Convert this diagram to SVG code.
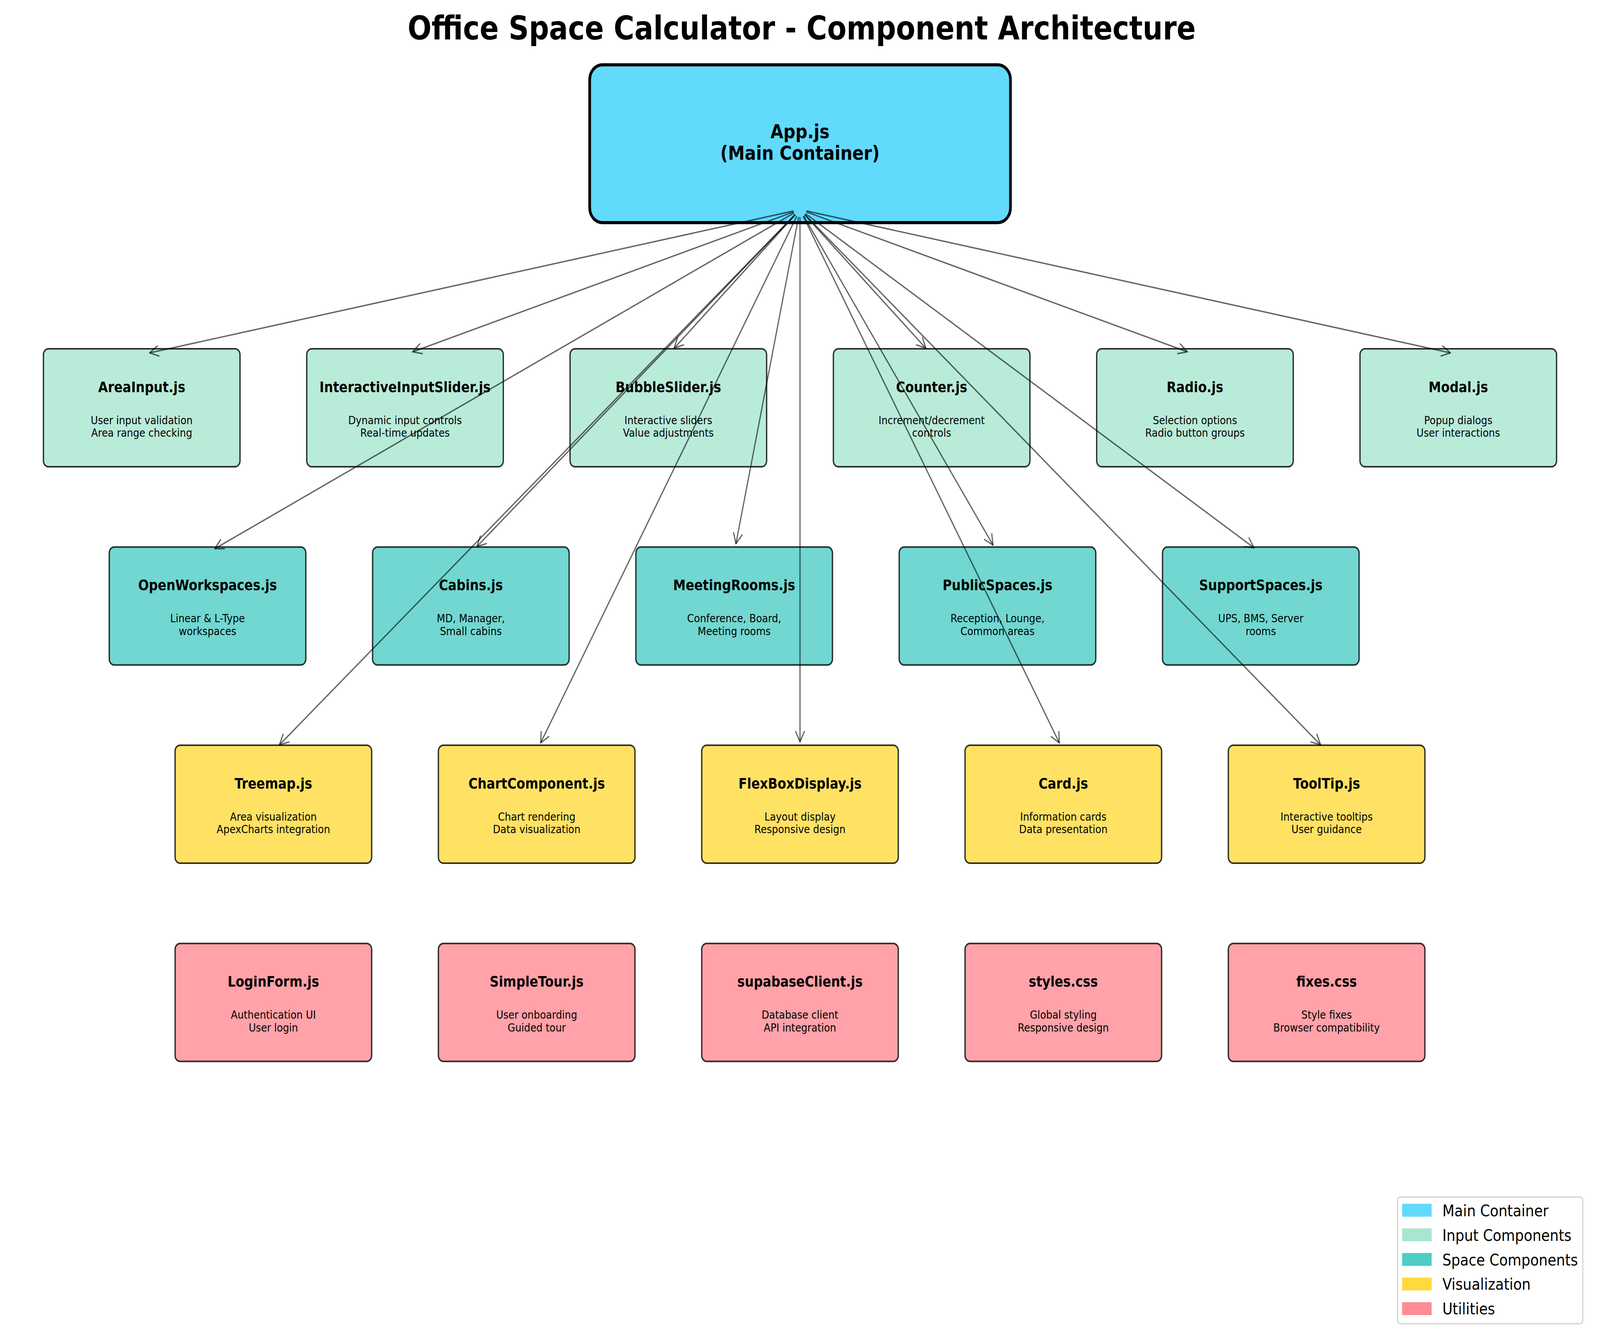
<svg xmlns="http://www.w3.org/2000/svg" width="4770" height="3441" viewBox="0 0 4770 3441" preserveAspectRatio="none">
<defs>
<style>
svg{width:100vw;height:100vh}
text{font-family:"DejaVu Sans","Liberation Sans",sans-serif;fill:#000;text-anchor:middle}
.title{font-size:84px;font-weight:bold}
.at{font-size:50px;font-weight:bold}
.nt{font-size:37.5px;font-weight:bold}
.nd{font-size:29.2px}
.lg{font-size:41.7px;text-anchor:start}
.box{stroke:#000;stroke-opacity:.8;stroke-width:4;fill-opacity:.8}
.inp{fill:#A8E6CF}
.spc{fill:#4ECDC4}
.viz{fill:#FFD93D}
.utl{fill:#FF8B94}
.con line{stroke:#000;stroke-opacity:.6;stroke-width:3.6;fill:none;marker-end:url(#ah)}
</style>
<marker id="ah" markerUnits="userSpaceOnUse" markerWidth="60" markerHeight="60" refX="0" refY="0" orient="auto" overflow="visible">
<path d="M-26,-13 L0,0 L-26,13" fill="none" stroke="#000" stroke-opacity=".6" stroke-width="3.6" stroke-linecap="round" stroke-linejoin="round"/>
</marker>
</defs>
<rect width="4770" height="3441" fill="#fff"/>
<text class="title" x="2390" y="101">Office Space Calculator - Component Architecture</text>

<g id="nodes">
<g id="app">
<rect x="1758" y="166" width="1254.5" height="404" rx="38" fill="#61DAFB" stroke="#000" stroke-width="8"/>
<text class="at" x="2385" y="354">App.js</text>
<text class="at" x="2385" y="409">(Main Container)</text>
</g>

<g id="areainput"><rect class="box inp" x="129.5" y="893" width="586" height="302" rx="15"/>
<text class="nt" x="422.5" y="1004">AreaInput.js</text><text class="nd" x="422.5" y="1086">User input validation</text><text class="nd" x="422.5" y="1118.5">Area range checking</text></g>
<g id="interactiveinputslider"><rect class="box inp" x="914.5" y="893" width="586" height="302" rx="15"/>
<text class="nt" x="1207.5" y="1004">InteractiveInputSlider.js</text><text class="nd" x="1207.5" y="1086">Dynamic input controls</text><text class="nd" x="1207.5" y="1118.5">Real-time updates</text></g>
<g id="bubbleslider"><rect class="box inp" x="1699.5" y="893" width="586" height="302" rx="15"/>
<text class="nt" x="1992.5" y="1004">BubbleSlider.js</text><text class="nd" x="1992.5" y="1086">Interactive sliders</text><text class="nd" x="1992.5" y="1118.5">Value adjustments</text></g>
<g id="counter"><rect class="box inp" x="2484.5" y="893" width="586" height="302" rx="15"/>
<text class="nt" x="2777.5" y="1004">Counter.js</text><text class="nd" x="2777.5" y="1086">Increment/decrement</text><text class="nd" x="2777.5" y="1118.5">controls</text></g>
<g id="radio"><rect class="box inp" x="3269.5" y="893" width="586" height="302" rx="15"/>
<text class="nt" x="3562.5" y="1004">Radio.js</text><text class="nd" x="3562.5" y="1086">Selection options</text><text class="nd" x="3562.5" y="1118.5">Radio button groups</text></g>
<g id="modal"><rect class="box inp" x="4054.5" y="893" width="586" height="302" rx="15"/>
<text class="nt" x="4347.5" y="1004">Modal.js</text><text class="nd" x="4347.5" y="1086">Popup dialogs</text><text class="nd" x="4347.5" y="1118.5">User interactions</text></g>

<g id="openworkspaces"><rect class="box spc" x="325.75" y="1400.5" width="586" height="302" rx="15"/>
<text class="nt" x="618.75" y="1511.5">OpenWorkspaces.js</text><text class="nd" x="618.75" y="1593.5">Linear &amp; L-Type</text><text class="nd" x="618.75" y="1626">workspaces</text></g>
<g id="cabins"><rect class="box spc" x="1110.75" y="1400.5" width="586" height="302" rx="15"/>
<text class="nt" x="1403.75" y="1511.5">Cabins.js</text><text class="nd" x="1403.75" y="1593.5">MD, Manager,</text><text class="nd" x="1403.75" y="1626">Small cabins</text></g>
<g id="meetingrooms"><rect class="box spc" x="1895.75" y="1400.5" width="586" height="302" rx="15"/>
<text class="nt" x="2188.75" y="1511.5">MeetingRooms.js</text><text class="nd" x="2188.75" y="1593.5">Conference, Board,</text><text class="nd" x="2188.75" y="1626">Meeting rooms</text></g>
<g id="publicspaces"><rect class="box spc" x="2680.75" y="1400.5" width="586" height="302" rx="15"/>
<text class="nt" x="2973.75" y="1511.5">PublicSpaces.js</text><text class="nd" x="2973.75" y="1593.5">Reception, Lounge,</text><text class="nd" x="2973.75" y="1626">Common areas</text></g>
<g id="supportspaces"><rect class="box spc" x="3465.75" y="1400.5" width="586" height="302" rx="15"/>
<text class="nt" x="3758.75" y="1511.5">SupportSpaces.js</text><text class="nd" x="3758.75" y="1593.5">UPS, BMS, Server</text><text class="nd" x="3758.75" y="1626">rooms</text></g>

<g id="treemap"><rect class="box viz" x="522" y="1908" width="586" height="302" rx="15"/>
<text class="nt" x="815" y="2019">Treemap.js</text><text class="nd" x="815" y="2101">Area visualization</text><text class="nd" x="815" y="2133.5">ApexCharts integration</text></g>
<g id="chartcomponent"><rect class="box viz" x="1307" y="1908" width="586" height="302" rx="15"/>
<text class="nt" x="1600" y="2019">ChartComponent.js</text><text class="nd" x="1600" y="2101">Chart rendering</text><text class="nd" x="1600" y="2133.5">Data visualization</text></g>
<g id="flexboxdisplay"><rect class="box viz" x="2092" y="1908" width="586" height="302" rx="15"/>
<text class="nt" x="2385" y="2019">FlexBoxDisplay.js</text><text class="nd" x="2385" y="2101">Layout display</text><text class="nd" x="2385" y="2133.5">Responsive design</text></g>
<g id="card"><rect class="box viz" x="2877" y="1908" width="586" height="302" rx="15"/>
<text class="nt" x="3170" y="2019">Card.js</text><text class="nd" x="3170" y="2101">Information cards</text><text class="nd" x="3170" y="2133.5">Data presentation</text></g>
<g id="tooltip"><rect class="box viz" x="3662" y="1908" width="586" height="302" rx="15"/>
<text class="nt" x="3955" y="2019">ToolTip.js</text><text class="nd" x="3955" y="2101">Interactive tooltips</text><text class="nd" x="3955" y="2133.5">User guidance</text></g>

<g id="loginform"><rect class="box utl" x="522" y="2415.5" width="586" height="302" rx="15"/>
<text class="nt" x="815" y="2526.5">LoginForm.js</text><text class="nd" x="815" y="2608.5">Authentication UI</text><text class="nd" x="815" y="2641">User login</text></g>
<g id="simpletour"><rect class="box utl" x="1307" y="2415.5" width="586" height="302" rx="15"/>
<text class="nt" x="1600" y="2526.5">SimpleTour.js</text><text class="nd" x="1600" y="2608.5">User onboarding</text><text class="nd" x="1600" y="2641">Guided tour</text></g>
<g id="supabaseclient"><rect class="box utl" x="2092" y="2415.5" width="586" height="302" rx="15"/>
<text class="nt" x="2385" y="2526.5">supabaseClient.js</text><text class="nd" x="2385" y="2608.5">Database client</text><text class="nd" x="2385" y="2641">API integration</text></g>
<g id="stylescss"><rect class="box utl" x="2877" y="2415.5" width="586" height="302" rx="15"/>
<text class="nt" x="3170" y="2526.5">styles.css</text><text class="nd" x="3170" y="2608.5">Global styling</text><text class="nd" x="3170" y="2641">Responsive design</text></g>
<g id="fixescss"><rect class="box utl" x="3662" y="2415.5" width="586" height="302" rx="15"/>
<text class="nt" x="3955" y="2526.5">fixes.css</text><text class="nd" x="3955" y="2608.5">Style fixes</text><text class="nd" x="3955" y="2641">Browser compatibility</text></g>
</g>

<g id="connectors" class="con">
<line x1="2365.84" y1="540.13" x2="446.08" y2="903.54"/>
<line x1="2366.40" y1="542.37" x2="1230.39" y2="900.78"/>
<line x1="2370.84" y1="549.90" x2="2009.93" y2="891.50"/>
<line x1="2399.16" y1="549.90" x2="2760.07" y2="891.50"/>
<line x1="2403.60" y1="542.37" x2="3539.61" y2="900.78"/>
<line x1="2404.16" y1="540.13" x2="4323.92" y2="903.54"/>
<line x1="2367.54" y1="545.19" x2="640.24" y2="1404.81"/>
<line x1="2370.48" y1="549.51" x2="1421.63" y2="1399.49"/>
<line x1="2380.75" y1="555.53" x2="2193.98" y2="1392.08"/>
<line x1="2395.85" y1="552.70" x2="2960.39" y2="1395.56"/>
<line x1="2401.43" y1="547.01" x2="3738.53" y2="1402.56"/>
<line x1="2370.38" y1="549.41" x2="832.99" y2="1907.11"/>
<line x1="2375.39" y1="553.47" x2="1611.82" y2="1902.12"/>
<line x1="2385" y1="556" x2="2385" y2="1899"/>
<line x1="2394.61" y1="553.47" x2="3158.18" y2="1902.12"/>
<line x1="2399.62" y1="549.41" x2="3937.01" y2="1907.11"/>
</g>

<g id="legend">
<rect x="4166.5" y="3064.8" width="552.3" height="324.2" rx="8" fill="#fff" fill-opacity=".8" stroke="#ccc" stroke-opacity=".8" stroke-width="3.5"/>
<rect x="4180" y="3082" width="88" height="33" fill="#61DAFB"/>
<text class="lg" x="4300" y="3114.5">Main Container</text>
<rect x="4180" y="3145" width="88" height="33" fill="#A8E6CF"/>
<text class="lg" x="4300" y="3177">Input Components</text>
<rect x="4180" y="3208" width="88" height="33" fill="#4ECDC4"/>
<text class="lg" x="4300" y="3240">Space Components</text>
<rect x="4180" y="3271" width="88" height="33" fill="#FFD93D"/>
<text class="lg" x="4300" y="3302.5">Visualization</text>
<rect x="4180" y="3334" width="88" height="33" fill="#FF8B94"/>
<text class="lg" x="4300" y="3365">Utilities</text>
</g>
</svg>
